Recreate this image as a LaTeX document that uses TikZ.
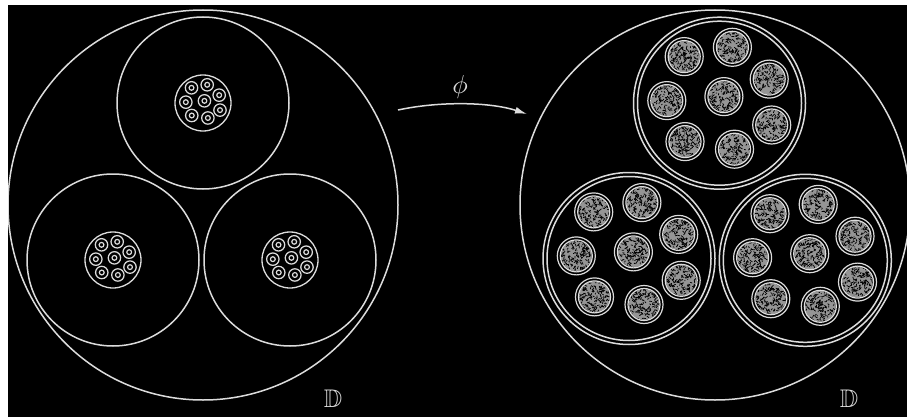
\documentclass[tikz,border=0pt]{standalone}
\usepackage{amssymb}
\usetikzlibrary{arrows.meta}
\definecolor{ink}{HTML}{DCDCDC}
\definecolor{texgray}{HTML}{959595}
\newcommand\TexDisk[2]{%
  \draw[ring,line width=1.2pt] (#1,#2) circle[radius=19];
  \begin{scope}
    \clip (#1,#2) circle[radius=15.4];
    \fill[texgray] (#1,#2) circle[radius=16];
    \foreach \k in {1,...,170}{
      \draw[black,line width=0.75pt,line cap=round] ({#1+15*rand},{#2+15*rand}) -- ++({2.5*rand},{2.5*rand});
    }
  \end{scope}
  \draw[ring,line width=1.2pt] (#1,#2) circle[radius=16];
}
\newcommand\RightSub[2]{%
  \draw[ring] (#1,#2) circle[radius=86];
  \draw[ring] (#1,#2) circle[radius=82];
  \foreach \dx/\dy in {-35.3/-46.6, 12.9/-55.9, 49.7/-24.1, -52.7/-2.6, 4.4/-6.6, 52.2/21.8, -34.5/38.4, 15/46}{
    \TexDisk{#1+\dx}{#2+\dy}
  }
}
\newcommand\LeftSub[2]{%
  \draw[ring] (#1,#2) circle[radius=86];
  \draw[ring,line width=1.3pt] (#1,#2) circle[radius=28];
  \foreach \dx/\dy in {-35.3/-46.6, 12.9/-55.9, 49.7/-24.1, -52.7/-2.6, 4.4/-6.6, 52.2/21.8, -34.5/38.4, 15/46}{
    \draw[ring,line width=1.25pt] ({#1+0.3256*\dx},{#2+0.3256*\dy}) circle[radius=6.2];
    \draw[ring,line width=1.2pt] ({#1+0.3256*\dx},{#2+0.3256*\dy}) circle[radius=2.4];
  }
}
\begin{document}
\begin{tikzpicture}[x=1pt,y=-1pt,
  ring/.style={draw=ink,line width=1.5pt},
  lbl/.style={text=ink,inner sep=0pt}]
\pgfmathsetseed{7}
\useasboundingbox (0,0) rectangle (907,417);
\fill[white] (0,0) rectangle (907,417);
\fill[black] (8,5) rectangle (907,417);
\begin{scope}
\clip (8,5) rectangle (907,417);
% left disk
\draw[ring] (203,205) circle[radius=195];
\LeftSub{203}{103}
\LeftSub{113}{260}
\LeftSub{290}{260}
% right disk
\draw[ring] (715,205) circle[radius=195];
\RightSub{719.5}{103.2}
\RightSub{629}{258.5}
\RightSub{805.3}{260.3}
\end{scope}
% arrow
\coordinate (arrS) at (398,110);
\coordinate (arrE) at (527,114);
\draw[ink,line width=1.5pt,-{Latex[length=12pt,width=7pt]}] (arrS) .. controls (440,101) and (490,102) .. (arrE);
\node[lbl,scale=2.6] (phi) at (460,87) {$\phi$};
\node[lbl,scale=2.55] (dl) at (333,399) {$\mathbb{D}$};
\node[lbl,scale=2.55] (dr) at (849,399) {$\mathbb{D}$};
\end{tikzpicture}
\end{document}
